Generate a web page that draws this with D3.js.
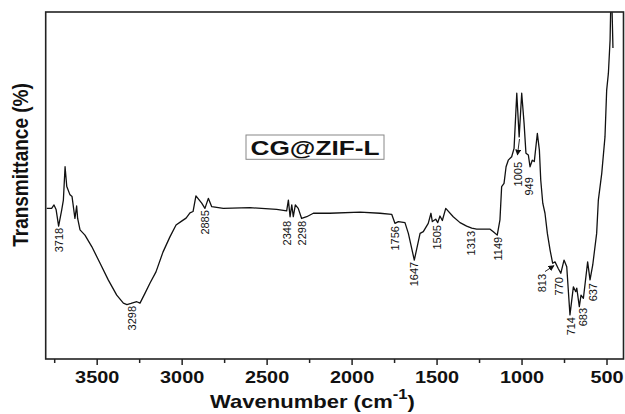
<!DOCTYPE html>
<html><head><meta charset="utf-8">
<script src="https://cdn.jsdelivr.net/npm/d3@7"></script>
<style>html,body{margin:0;padding:0;background:#fff;} svg{display:block;}</style>
</head><body>
<svg id="chart" width="625" height="414"></svg>
<script>
// ---- data ----
const wavenumber = [3794,3765,3751,3739,3724,3706,3696,3686,3676,3657,3645,3628,3618,3612,3598,3569,3529,3480,3432,3382,3343,3322,3298,3264,3245,3216,3186,3151,3110,3069,3033,2998,2974,2951,2933,2916,2882,2863,2843,2823,2755,2598,2441,2382,2372,2362,2352,2343,2331,2314,2294,2264,2225,2129,1950,1833,1764,1745,1725,1686,1666,1631,1597,1578,1549,1533,1525,1505,1493,1480,1466,1446,1402,1362,1323,1293,1264,1185,1166,1143,1127,1117,1103,1091,1078,1058,1044,1028,1014,999,985,974,960,950,937,925,907,895,887,875,862,848,832,817,803,784,769,750,734,715,695,681,675,660,650,636,611,597,581,558,548,528,509,499,489,479,475,468,462];
const transmittance = [43.4,43.4,44.4,43.1,38.3,42.9,45.8,55.4,49.7,47.3,46.8,40.5,44.1,40.5,37.2,35.7,32.4,27.6,22.8,18.4,16.1,15.7,16.0,16.5,16.1,18.9,21.9,25.1,30.8,35.2,38.6,39.8,40.6,42.1,42.5,47.0,44.9,43.4,46.3,43.9,43.4,43.6,43.1,42.7,45.8,41.0,44.4,41.0,44.4,43.4,40.5,41.0,42.0,42.0,42.3,42.0,41.7,39.1,39.6,39.3,36.2,28.5,36.2,36.7,39.1,42.0,39.6,40.3,39.3,41.2,39.9,43.4,41.0,39.3,38.3,37.7,37.4,37.4,36.7,35.7,40.1,49.7,50.6,55.4,57.3,58.3,60.7,76.6,64.0,76.6,67.9,59.3,58.8,55.4,57.3,56.9,65.0,60.2,51.6,44.9,42.0,36.2,31.4,27.6,28.0,26.1,24.7,28.5,26.6,12.7,20.8,19.4,20.4,15.1,18.4,17.5,28.0,22.8,27.1,36.2,45.8,53.5,64.0,77.5,82.3,91.9,102,102,89.6];

const xTicks = [3500,3000,2500,2000,1500,1000,500];
const xMinorTicks = [3750,3250,2750,2250,1750,1250,750];

const peakLabels = ["3718","3298","2885","2348","2298","1756","1647","1505","1313","1149","1005","949","813","770","714","683","637"];
const peakLabelAt = [3724,3294,2863,2378,2294,1745,1631,1496,1299,1137,1019,956,881,778,711,640,578];
const peakLabelT = [37.8,15.3,42.9,39.8,39.8,38.3,28.0,38.6,36.9,35.2,56.8,52.4,24.5,23.6,12.1,14.7,21.9];

const arrowFromW = [1012, 862];
const arrowFromT = [63.4, 25.2];
const arrowToW = [1024, 809];
const arrowToT = [58.8, 26.9];

const sampleName = "CG@ZIF-L";
const xTitleMain = "Wavenumber (cm";
const xTitleSup = "-1";
const xTitleEnd = ")";
const yTitle = "Transmittance (%)";

// ---- drawing ----
const m = {l:45.7, r:623.5, t:12, b:359};
const x = d3.scaleLinear().domain([3800,400]).range([m.l, m.r]);
const y = d3.scaleLinear().domain([0,100]).range([m.b, m.t]);
const svg = d3.select("#chart");
const FONT = "'Liberation Sans', Arial, sans-serif";
const defs = svg.append("defs");
defs.append("clipPath").attr("id","clip").append("rect")
  .attr("x",m.l).attr("y",m.t).attr("width",m.r-m.l).attr("height",m.b-m.t);
defs.append("marker").attr("id","arr").attr("viewBox","0 0 10 10").attr("refX",9).attr("refY",5)
  .attr("markerWidth",6).attr("markerHeight",6).attr("markerUnits","userSpaceOnUse").attr("orient","auto")
  .append("path").attr("d","M0,0L10,5L0,10Z").attr("fill","#111");

const data = wavenumber.map((w,i)=>({w, t:transmittance[i]}));
svg.append("path").datum(data)
  .attr("clip-path","url(#clip)")
  .attr("fill","none").attr("stroke","#111").attr("stroke-width",1.3).attr("stroke-linejoin","round")
  .attr("d", d3.line().x(d=>x(d.w)).y(d=>y(d.t)));

// frame
svg.append("rect").attr("x",m.l).attr("y",m.t).attr("width",m.r-m.l).attr("height",m.b-m.t)
  .attr("fill","none").attr("stroke","#222").attr("stroke-width",1.6);

// x axis
const gx = svg.append("g").attr("transform",`translate(0,${m.b})`)
  .call(d3.axisBottom(x).tickValues(xTicks).tickSize(6).tickFormat(d3.format("d")));
gx.select(".domain").remove();
gx.selectAll("line").attr("stroke","#222").attr("stroke-width",1.5);
gx.selectAll("text").attr("y",23.7).attr("dy",null)
  .attr("font-family",FONT).attr("font-weight","bold").attr("font-size","16.7px").attr("fill","#111")
  .attr("transform","scale(1.19,1)");
const gm = svg.append("g").attr("transform",`translate(0,${m.b})`)
  .call(d3.axisBottom(x).tickValues(xMinorTicks).tickSize(4).tickFormat(""));
gm.select(".domain").remove();
gm.selectAll("line").attr("stroke","#222").attr("stroke-width",1.5);

// x title
const xt = svg.append("g").attr("transform","translate(312.5,408) scale(1.19,1)")
  .append("text").attr("text-anchor","middle")
  .attr("font-family",FONT).attr("font-weight","bold").attr("font-size","18.5px").attr("fill","#111");
xt.append("tspan").text(xTitleMain);
xt.append("tspan").attr("font-size","14px").attr("dy",-9).text(xTitleSup);
xt.append("tspan").attr("dy",9).text(xTitleEnd);

// y title
svg.append("g").attr("transform","translate(28,165) scale(1.19,1) rotate(-90)")
  .append("text").attr("text-anchor","middle")
  .attr("font-family",FONT).attr("font-weight","bold").attr("font-size","19px").attr("fill","#111")
  .text(yTitle);

// peak labels
svg.append("g").selectAll("text").data(peakLabels).join("text")
  .attr("transform",(d,i)=>`translate(${x(peakLabelAt[i])},${y(peakLabelT[i])}) rotate(-90)`)
  .attr("text-anchor","end").attr("dominant-baseline","central")
  .attr("font-family",FONT).attr("font-size","11px").attr("fill","#111")
  .text(d=>d);

// arrows
svg.append("g").selectAll("line").data(arrowFromW).join("line")
  .attr("x1",(d,i)=>x(d)).attr("y1",(d,i)=>y(arrowFromT[i]))
  .attr("x2",(d,i)=>x(arrowToW[i])).attr("y2",(d,i)=>y(arrowToT[i]))
  .attr("stroke","#111").attr("stroke-width",0.9).attr("marker-end","url(#arr)");

// sample box
svg.append("rect").attr("x",246).attr("y",135).attr("width",138).attr("height",24.3)
  .attr("fill","#fff").attr("stroke","#888").attr("stroke-width",1);
svg.append("text").attr("x",250.5).attr("y",155)
  .attr("font-family",FONT).attr("font-weight","bold").attr("font-size","20px").attr("fill","#111")
  .attr("textLength",129).attr("lengthAdjust","spacingAndGlyphs")
  .text(sampleName);
</script>
</body></html>
